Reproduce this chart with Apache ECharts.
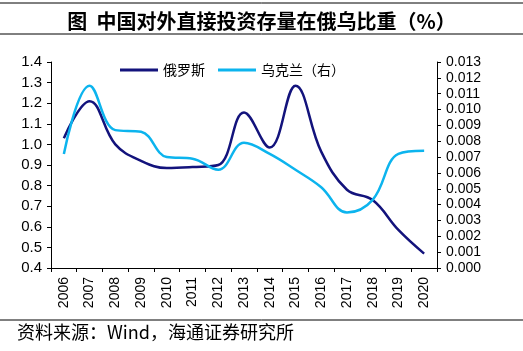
<!DOCTYPE html>
<html>
<head>
<meta charset="utf-8">
<script src="https://cdn.jsdelivr.net/npm/echarts@6/dist/echarts.min.js"></script>
<style>
  html, body { margin: 0; padding: 0; background: #fff; }
  #chart { width: 523px; height: 351px; }
</style>
</head>
<body>
<div id="chart"></div>
<script>
// 数据
const years = ['2006', '2007', '2008', '2009', '2010', '2011', '2012', '2013', '2014', '2015', '2016', '2017', '2018', '2019', '2020'];
const russia = [1.03, 1.21, 1.0, 0.92, 0.885, 0.89, 0.9, 1.155, 0.985, 1.285, 0.965, 0.78, 0.73, 0.585, 0.47];
const ukraine = [0.0072, 0.0115, 0.0087, 0.0086, 0.0070, 0.0069, 0.0062, 0.0079, 0.0072, 0.0062, 0.0051, 0.0035, 0.0043, 0.0072, 0.0074];

const cjk = '"Noto Sans CJK SC", sans-serif';
const num = 'Arial, "Liberation Sans", sans-serif';

const chart = echarts.init(document.getElementById('chart'));

const axisLine = { show: true, lineStyle: { color: '#000', width: 1 } };
const axisTick = { show: true, length: 4, lineStyle: { color: '#000' } };

chart.setOption({
  animation: false,
  title: {
    text: '图  中国对外直接投资存量在俄乌比重（%）',
    left: 'center',
    top: 6,
    textStyle: { fontFamily: cjk, fontSize: 20, fontWeight: 'bold', color: '#000' },
  },
  legend: {
    left: 115,
    top: 58,
    icon: 'rect',
    itemWidth: 38,
    itemHeight: 3,
    itemGap: 13,
    textStyle: { fontFamily: cjk, fontSize: 14, color: '#000' },
    data: ['俄罗斯', '乌克兰（右）'],
  },
  grid: { left: 51, right: 86, top: 62, bottom: 83 },
  xAxis: {
    type: 'category',
    data: years,
    boundaryGap: true,
    axisLine: axisLine,
    axisTick: axisTick,
    axisLabel: { rotate: 90, fontFamily: num, fontSize: 14, color: '#000', margin: 9, interval: 0 },
  },
  yAxis: [
    {
      type: 'value',
      min: 0.4,
      max: 1.4,
      interval: 0.1,
      axisLine: axisLine,
      axisTick: axisTick,
      splitLine: { show: false },
      axisLabel: { fontFamily: num, fontSize: 15, color: '#000', margin: 9, formatter: (v) => v.toFixed(1) },
    },
    {
      type: 'value',
      min: 0,
      max: 0.013,
      interval: 0.001,
      position: 'right',
      axisLine: axisLine,
      axisTick: axisTick,
      splitLine: { show: false },
      axisLabel: { fontFamily: num, fontSize: 14, color: '#000', margin: 9, formatter: (v) => v.toFixed(3) },
    },
  ],
  series: [
    {
      name: '俄罗斯',
      type: 'line',
      data: russia,
      yAxisIndex: 0,
      smooth: 0.4,
      symbol: 'none',
      lineStyle: { color: '#13137c', width: 2.5 },
      itemStyle: { color: '#13137c' },
    },
    {
      name: '乌克兰（右）',
      type: 'line',
      data: ukraine,
      yAxisIndex: 1,
      smooth: 0.4,
      symbol: 'none',
      lineStyle: { color: '#0cb4ee', width: 2.5 },
      itemStyle: { color: '#0cb4ee' },
    },
  ],
  graphic: [
    { type: 'line', shape: { x1: 0, y1: 3, x2: 523, y2: 3 }, style: { stroke: '#000', lineWidth: 1 } },
    { type: 'line', shape: { x1: 0, y1: 34, x2: 523, y2: 34 }, style: { stroke: '#000', lineWidth: 1 } },
    { type: 'line', shape: { x1: 0, y1: 320, x2: 523, y2: 320 }, style: { stroke: '#000', lineWidth: 1 } },
    {
      type: 'text',
      left: 17,
      top: 323,
      style: { text: '资料来源：Wind，海通证券研究所', font: '18px ' + cjk, fill: '#000' },
    },
  ],
});
</script>
</body>
</html>
